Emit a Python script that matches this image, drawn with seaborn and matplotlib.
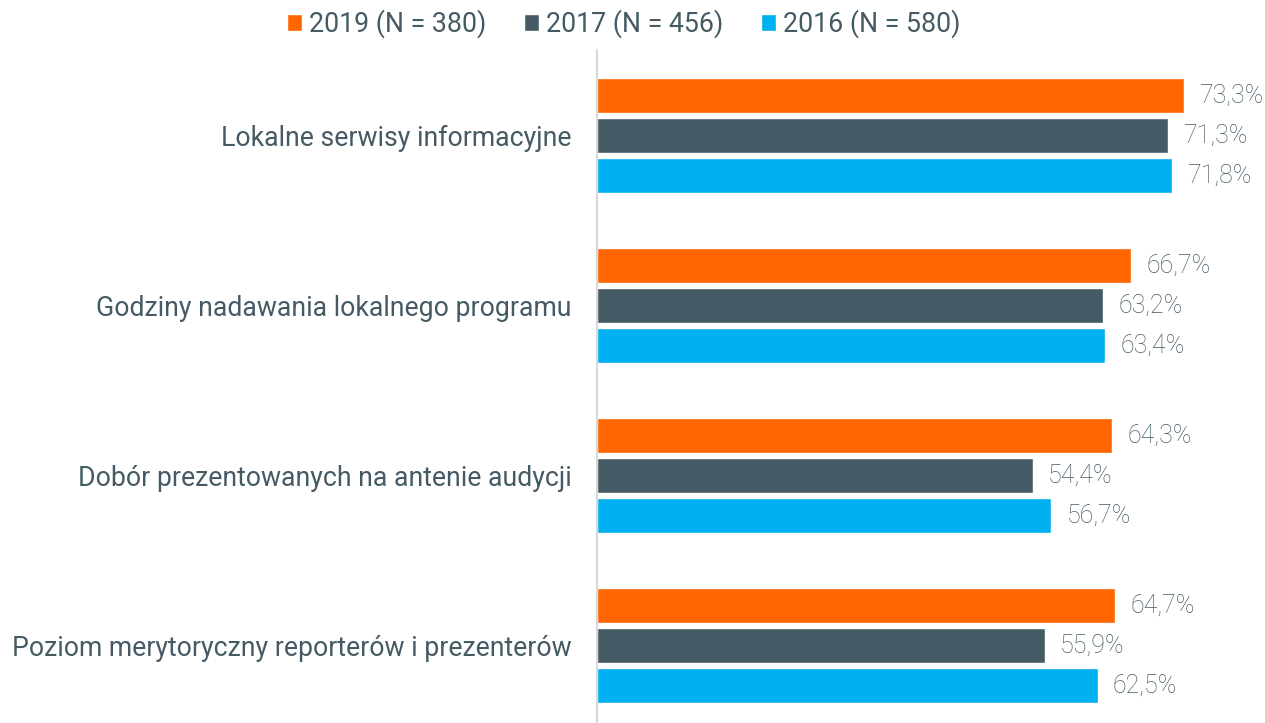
import pandas as pd
import matplotlib.pyplot as plt
import seaborn as sns

# Data
categories = ['Lokalne serwisy informacyjne',
              'Godziny nadawania lokalnego programu',
              'Dobór prezentowanych na antenie audycji',
              'Poziom merytoryczny reporterów i prezenterów']
years = ['2019 (N = 380)', '2017 (N = 456)', '2016 (N = 580)']
vals_2019 = [73.3, 66.7, 64.3, 64.7]
vals_2017 = [71.3, 63.2, 54.4, 55.9]
vals_2016 = [71.8, 63.4, 56.7, 62.5]
colors = ['#FF6600', '#455A64', '#00B0F0']

df = pd.DataFrame({
    'category': categories * 3,
    'year': [years[0]] * 4 + [years[1]] * 4 + [years[2]] * 4,
    'value': vals_2019 + vals_2017 + vals_2016,
})

sns.set_style('white')
plt.rcParams['font.family'] = ['Roboto', 'DejaVu Sans']

fig = plt.figure(figsize=(12.65, 7.23), dpi=100)
ax = fig.add_axes([597 / 1265, 0, 668 / 1265, 673 / 723])

sns.barplot(data=df, y='category', x='value', hue='year', orient='h',
            palette=colors, saturation=1, width=0.706, gap=0.125, ax=ax)

ax.set_xlim(0, 83.4)
ax.set_ylim(3.456, -0.503)
ax.set_xlabel('')
ax.set_ylabel('')
ax.set_xticks([])
ax.tick_params(axis='y', length=0, pad=18.5, labelsize=19.2, labelcolor='#455A64')

for s in ['top', 'right', 'bottom']:
    ax.spines[s].set_visible(False)
ax.spines['left'].set_color('#D5D9DC')
ax.spines['left'].set_linewidth(1.5)

# Value labels
for cont in ax.containers:
    labels = [f'{b.get_width():.1f}%'.replace('.', ',') for b in cont]
    ax.bar_label(cont, labels=labels, padding=11, fontsize=18,
                 color='#455A64', fontweight='light')

# Legend
handles, labels = ax.get_legend_handles_labels()
ax.get_legend().remove()
fig.legend(handles, labels, loc='center', bbox_to_anchor=(0.493, 0.967),
           ncol=3, frameon=False, fontsize=19.3, labelcolor='#455A64',
           handlelength=0.56, handleheight=0.56, handletextpad=0.25,
           columnspacing=1.42)

plt.savefig('out.png', dpi=100)
plt.close()
